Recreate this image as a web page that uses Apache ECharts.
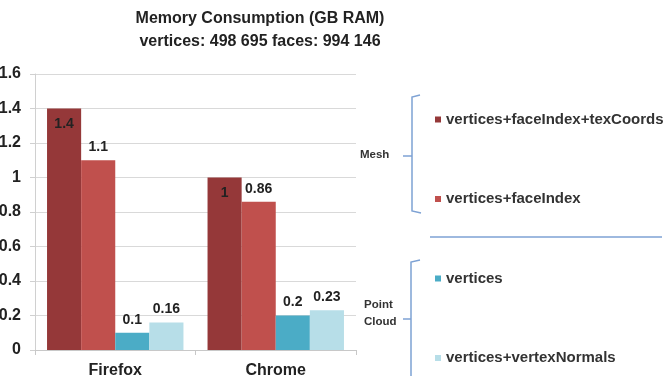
<!DOCTYPE html>
<html><head><meta charset="utf-8">
<script src="https://cdn.jsdelivr.net/npm/echarts@6/dist/echarts.min.js"></script>
<style>html,body{margin:0;padding:0;background:#fff}#c{width:668px;height:376px}</style>
</head><body><div id="c"></div>
<script>
var titleLines = ['Memory Consumption (GB RAM)', 'vertices: 498 695 faces: 994 146'];
var categories = ['Firefox', 'Chrome'];
var seriesNames = ['vertices+faceIndex+texCoords', 'vertices+faceIndex', 'vertices', 'vertices+vertexNormals'];
var texCoordsValues = [1.4, 1];
var faceIndexValues = [1.1, 0.86];
var verticesValues = [0.1, 0.2];
var normalsValues = [0.16, 0.23];
var groupLabels = ['Mesh', 'Point\nCloud'];
var colors = ['#953839', '#c0504d', '#4bacc6', '#b7dee8'];
var FONT = 'Liberation Sans';

var values = [texCoordsValues, faceIndexValues, verticesValues, normalsValues];
var chart = echarts.init(document.getElementById('c'));
var series = values.map(function (v, i) {
  return {
    name: seriesNames[i], type: 'bar', data: v,
    barGap: '0%', barCategoryGap: '15%',
    itemStyle: { color: colors[i] },
    label: {
      show: true, position: i === 0 ? 'insideTop' : 'top', distance: i === 0 ? 9 : 6,
      color: '#222', fontFamily: FONT, fontWeight: 'bold', fontSize: 14
    }
  };
});
var bracket = { stroke: '#7ea2d4', lineWidth: 1.5 };
chart.setOption({
  animation: false,
  title: {
    text: titleLines.join('\n'), left: 255, top: 2, textAlign: 'center',
    textStyle: { fontFamily: FONT, fontWeight: 'bold', fontSize: 16, color: '#222', lineHeight: 23 }
  },
  grid: { left: 35, right: 312, top: 74, bottom: 26, containLabel: false, outerBoundsMode: 'none' },
  xAxis: {
    type: 'category', data: categories,
    axisLine: { lineStyle: { color: '#c8c8c8' } },
    axisTick: { show: true, length: 5, lineStyle: { color: '#c8c8c8' } },
    axisLabel: { margin: 13, color: '#222', fontFamily: FONT, fontWeight: 'bold', fontSize: 16 }
  },
  yAxis: {
    type: 'value', min: 0, max: 1.6, interval: 0.2,
    axisLine: { show: true, lineStyle: { color: '#d0d0d0' } },
    axisTick: { show: true, length: 5, lineStyle: { color: '#d0d0d0' } },
    splitLine: { lineStyle: { color: '#d9d9d9' } },
    axisLabel: { margin: 14, color: '#222', fontFamily: FONT, fontWeight: 'bold', fontSize: 16 }
  },
  legend: {
    orient: 'vertical', left: 430, top: 107, itemGap: 64.5, padding: 5,
    icon: 'rect', itemWidth: 6, itemHeight: 6,
    textStyle: { fontFamily: FONT, fontWeight: 'bold', fontSize: 15, color: '#333', lineHeight: 15 },
    data: seriesNames
  },
  graphic: [
    { type: 'polyline', shape: { points: [[420, 95], [412, 97], [412, 211], [421, 213]] }, style: Object.assign({ fill: null }, bracket) },
    { type: 'line', shape: { x1: 403, y1: 156, x2: 412, y2: 156 }, style: bracket },
    { type: 'text', left: 360, top: 149, style: { text: groupLabels[0], font: 'bold 11.5px "Liberation Sans"', fill: '#333' } },
    { type: 'line', shape: { x1: 430, y1: 237, x2: 662, y2: 237 }, style: bracket },
    { type: 'polyline', shape: { points: [[420, 260], [411, 262], [411, 376]] }, style: Object.assign({ fill: null }, bracket) },
    { type: 'line', shape: { x1: 403, y1: 319, x2: 411, y2: 319 }, style: bracket },
    { type: 'text', left: 364, top: 296, style: { text: groupLabels[1], font: 'bold 11.5px "Liberation Sans"', fill: '#333', lineHeight: 17 } }
  ],
  series: series
});
</script></body></html>
